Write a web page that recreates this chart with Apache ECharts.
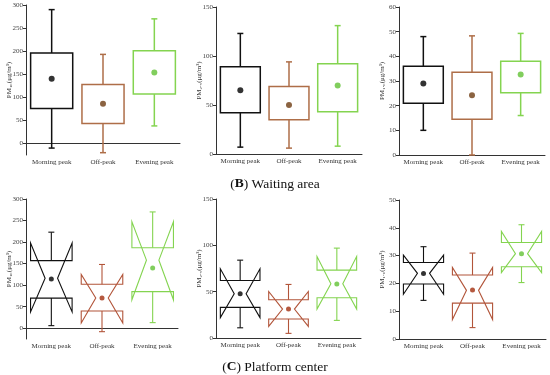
<!DOCTYPE html>
<html>
<head>
<meta charset="utf-8">
<script src="https://cdn.jsdelivr.net/npm/echarts@6/dist/echarts.min.js"></script>
<style>html,body{margin:0;padding:0;background:#fff}#c{width:550px;height:375px}</style>
</head>
<body>
<div id="c"></div>
<script>
// ---- data ----
const categories = ['Morning peak', 'Off-peak', 'Evening peak'];
// Waiting area (box plots): [whiskerLow, Q1, Q3, whiskerHigh]
const pm10WaitBox = [[-10, 76, 196, 290], [-20, 43, 128, 193], [38, 107, 201, 270]];
const pm10WaitMean = [140, 86, 154];
const pm25WaitBox = [[7, 42, 89, 123], [6, 35, 69, 94], [8, 43, 92, 131]];
const pm25WaitMean = [65, 50, 70];
const pm1WaitBox = [[10, 21, 36, 48], [0, 14.5, 33.5, 48.3], [16, 25.2, 38, 49.3]];
const pm1WaitMean = [29, 24.2, 32.6];
// Platform center (notched): [whiskerLow, notchLow, Q1, median, Q3, notchHigh, whiskerHigh]
const pm10PlatBox = [[6, 38, 70, 116, 157, 198, 223], [-8, 12, 40, 70, 102, 125, 148], [13, 66, 85, 158, 187, 247, 270]];
const pm10PlatMean = [114.5, 70, 140];
const pm25PlatBox = [[11, 22, 33, 47.7, 62, 74.7, 84], [5, 12.5, 20.5, 31.2, 41.3, 50.2, 57.8], [19, 31.2, 43.4, 58.5, 73.3, 88, 97]];
const pm25PlatMean = [47.7, 31.2, 58.2];
const pm1PlatBox = [[13.9, 16.1, 19.8, 23.6, 27.5, 30.2, 33.2], [4.1, 7, 12.9, 17.5, 23, 25.7, 30.9], [20.3, 23.9, 26, 30.7, 34.7, 38.7, 41.1]];
const pm1PlatMean = [23.6, 17.6, 30.7];
// tick labels
const ticksPM10 = [0, 50, 100, 150, 200, 250, 300];
const ticksPM25 = [0, 50, 100, 150];
const ticksPM1Wait = [0, 10, 20, 30, 40, 50, 60];
const ticksPM1Plat = [0, 10, 20, 30, 40, 50];

// ---- styles ----
const topLine = ['#111111', '#AE6E48', '#84D450'];
const topDot = ['#000000', '#6E3C12', '#62C234'];
const botLine = ['#111111', '#B2553A', '#84D450'];
const botDot = ['#000000', '#A2300F', '#62C234'];
const SERIF = '"Liberation Serif","DejaVu Serif",serif';

const grids = [
  {left: 26, top: 5, width: 154, height: 150},
  {left: 216, top: 7, width: 146, height: 147},
  {left: 399, top: 7, width: 146, height: 148},
  {left: 26, top: 199, width: 152, height: 140},
  {left: 216, top: 199, width: 145, height: 139},
  {left: 399, top: 200, width: 147, height: 139}
];

function xAxis(i) {
  return {
    type: 'category', gridIndex: i, data: categories,
    axisLine: {lineStyle: {color: '#333', width: 1}},
    axisTick: {alignWithLabel: true, length: 3, lineStyle: {color: '#333'}},
    axisLabel: {fontFamily: SERIF, fontSize: 7, color: '#333', margin: 4, interval: 0},
    splitLine: {show: false}
  };
}
function yAxis(i, min, max, ticks, name) {
  return {
    type: 'value', gridIndex: i, min: min, max: max,
    name: name, nameLocation: 'middle', nameGap: 13, nameRotate: 90, nameMoveOverlap: false,
    nameTextStyle: {fontFamily: SERIF, fontSize: 7, color: '#333'},
    axisLine: {show: true, lineStyle: {color: '#333', width: 1}},
    axisTick: {show: true, length: 3, customValues: ticks, lineStyle: {color: '#333'}},
    axisLabel: {fontFamily: SERIF, fontSize: 7, color: '#444', margin: 3, customValues: ticks},
    splitLine: {show: false}
  };
}

function boxSeries(i, box) {
  return {
    type: 'custom', xAxisIndex: i, yAxisIndex: i,
    data: box.map((b, k) => [k].concat(b)),
    renderItem: function (params, api) {
      const k = params.dataIndex;
      const x = api.value(0);
      const pLow = api.coord([x, api.value(1)]);
      const pQ1 = api.coord([x, api.value(2)]);
      const pQ3 = api.coord([x, api.value(3)]);
      const pHigh = api.coord([x, api.value(4)]);
      const bw = api.size([1, 0])[0] * 0.82;
      const cx = pQ1[0];
      const cap = 3;
      const st = {stroke: topLine[k], fill: 'none', lineWidth: 1.5};
      return {
        type: 'group', children: [
          {type: 'rect', shape: {x: cx - bw / 2, y: pQ3[1], width: bw, height: pQ1[1] - pQ3[1]}, style: st},
          {type: 'line', shape: {x1: cx, y1: pQ3[1], x2: cx, y2: pHigh[1]}, style: st},
          {type: 'line', shape: {x1: cx, y1: pQ1[1], x2: cx, y2: pLow[1]}, style: st},
          {type: 'line', shape: {x1: cx - cap, y1: pHigh[1], x2: cx + cap, y2: pHigh[1]}, style: st},
          {type: 'line', shape: {x1: cx - cap, y1: pLow[1], x2: cx + cap, y2: pLow[1]}, style: st}
        ]
      };
    },
    z: 2
  };
}

function notchSeries(i, box) {
  return {
    type: 'custom', xAxisIndex: i, yAxisIndex: i,
    data: box.map((b, k) => [k].concat(b)),
    renderItem: function (params, api) {
      const k = params.dataIndex;
      const x = api.value(0);
      const y = n => api.coord([x, api.value(n)])[1];
      const wLow = y(1), nLow = y(2), q1 = y(3), med = y(4), q3 = y(5), nHigh = y(6), wHigh = y(7);
      const cx = api.coord([x, 0])[0];
      const bw = api.size([1, 0])[0] * 0.82;
      const L = cx - bw / 2, R = cx + bw / 2;
      const wl = cx - bw / 2 * 0.3, wr = cx + bw / 2 * 0.3;
      const cap = 3;
      const st = {stroke: botLine[k], fill: 'none', lineWidth: 1.1};
      return {
        type: 'group', children: [
          {type: 'polygon', shape: {points: [[L, q3], [L, nHigh], [wl, med], [L, nLow], [L, q1], [R, q1], [R, nLow], [wr, med], [R, nHigh], [R, q3]]}, style: st},
          {type: 'line', shape: {x1: cx, y1: q3, x2: cx, y2: wHigh}, style: st},
          {type: 'line', shape: {x1: cx, y1: q1, x2: cx, y2: wLow}, style: st},
          {type: 'line', shape: {x1: cx - cap, y1: wHigh, x2: cx + cap, y2: wHigh}, style: st},
          {type: 'line', shape: {x1: cx - cap, y1: wLow, x2: cx + cap, y2: wLow}, style: st}
        ]
      };
    },
    z: 2
  };
}

function meanSeries(i, means, colors, size) {
  return {
    type: 'scatter', xAxisIndex: i, yAxisIndex: i, symbol: 'circle', symbolSize: size,
    data: means.map((m, k) => ({value: [k, m], itemStyle: {color: colors[k]}})),
    z: 3, silent: true
  };
}

const chart = echarts.init(document.getElementById('c'), null, {renderer: 'canvas'});
chart.setOption({
  animation: false,
  backgroundColor: '#fff',
  grid: grids,
  xAxis: [0, 1, 2, 3, 4, 5].map(xAxis),
  yAxis: [
    yAxis(0, -25, 300, ticksPM10, 'PM₁₀(μg/m³)'),
    yAxis(1, 0, 150, ticksPM25, 'PM₂.₅(μg/m³)'),
    yAxis(2, 0, 60, ticksPM1Wait, 'PM₁.₀(μg/m³)'),
    yAxis(3, -25, 300, ticksPM10, 'PM₁₀(μg/m³)'),
    yAxis(4, 0, 150, ticksPM25, 'PM₂.₅(μg/m³)'),
    yAxis(5, 0, 50, ticksPM1Plat, 'PM₁.₀(μg/m³)')
  ],
  title: [
    {text: '({b|B}) Waiting area', left: 'center', top: 172,
      textStyle: {fontFamily: SERIF, fontSize: 13.5, fontWeight: 'normal', color: '#111',
        rich: {b: {fontFamily: SERIF, fontSize: 13.5, fontWeight: 'bold', color: '#111'}}}},
    {text: '({b|C}) Platform center', left: 'center', top: 355,
      textStyle: {fontFamily: SERIF, fontSize: 13.5, fontWeight: 'normal', color: '#111',
        rich: {b: {fontFamily: SERIF, fontSize: 13.5, fontWeight: 'bold', color: '#111'}}}}
  ],
  series: [
    boxSeries(0, pm10WaitBox), meanSeries(0, pm10WaitMean, topDot, 6),
    boxSeries(1, pm25WaitBox), meanSeries(1, pm25WaitMean, topDot, 6),
    boxSeries(2, pm1WaitBox), meanSeries(2, pm1WaitMean, topDot, 6),
    notchSeries(3, pm10PlatBox), meanSeries(3, pm10PlatMean, botDot, 5),
    notchSeries(4, pm25PlatBox), meanSeries(4, pm25PlatMean, botDot, 5),
    notchSeries(5, pm1PlatBox), meanSeries(5, pm1PlatMean, botDot, 5)
  ]
});
</script>
</body>
</html>
